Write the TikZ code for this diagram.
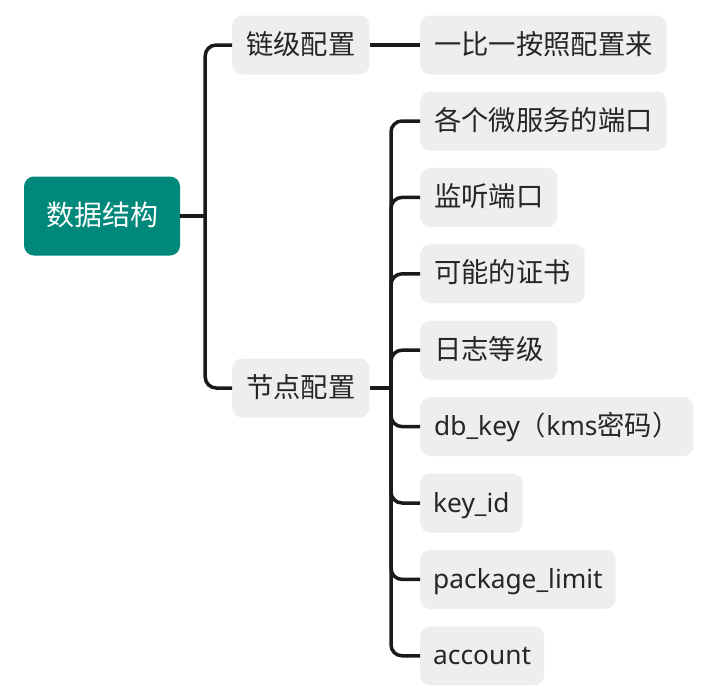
\documentclass[tikz,border=0pt]{standalone}
\usepackage{fontspec}
\setmainfont{Noto Sans}
\newfontfamily\cjk{Noto Sans CJK SC}
\usetikzlibrary{positioning}
\definecolor{rootteal}{HTML}{00897B}
\definecolor{boxgray}{HTML}{EEEEEE}
\definecolor{linedark}{HTML}{1A1A1A}
\tikzset{
  rootbox/.style={fill=rootteal, text=white, rounded corners=10pt, minimum height=79pt,
    inner xsep=22pt, text height=22pt, text depth=4pt, font=\cjk\fontsize{28}{32}\selectfont},
  topic/.style={fill=boxgray, text=black!85, rounded corners=10pt, minimum height=59pt,
    inner xsep=14pt, text height=22pt, text depth=4pt, anchor=west,
    font=\cjk\fontsize{27.3}{31}\selectfont},
  latin/.style={font=\normalfont\fontsize{26.3}{30}\selectfont, inner xsep=13pt},
  branch/.style={draw=linedark, line width=3.5pt, rounded corners=11pt}
}
\begin{document}
\begin{tikzpicture}[x=1pt,y=-1pt]
\useasboundingbox (0,0) rectangle (710,691);
% nodes
 \node[rootbox] (data) at (102,216) {数据结构};
 \node[topic] (chain) at (232,45) {链级配置};
 \node[topic] (onebyone) at (420,45) {一比一按照配置来};
 \node[topic] (node) at (232,388) {节点配置};

 \node[topic] (port) at (420,121) {各个微服务的端口};
 \node[topic, below=17pt of port.south west, anchor=north west] (listen) {监听端口};
 \node[topic, below=17pt of listen.south west, anchor=north west] (cert) {可能的证书};
 \node[topic, below=17pt of cert.south west, anchor=north west] (loglevel) {日志等级};
 \node[topic, below=17pt of loglevel.south west, anchor=north west] (dbkey) {\fontsize{26.3}{30}\normalfont db\_key{\cjk （}kms{\cjk\fontsize{27.3}{31}\selectfont 密码）}};
 \node[topic, latin, below=17pt of dbkey.south west, anchor=north west] (keyid) {key\_id};
 \node[topic, latin, below=17pt of keyid.south west, anchor=north west] (pkglimit) {package\_limit};
 \node[topic, latin, below=17pt of pkglimit.south west, anchor=north west] (account) {account};

 \coordinate[right=25pt of data] (j1);
 \coordinate (j2) at (391,388);

% edges
 \draw[branch] (data.east) -- (j1);
 \draw[branch] (chain.west) -| (j1);
 \draw[branch] (node.west) -| (j1);
 \draw[branch] (chain.east) -- (onebyone.west);
 \draw[branch] (node.east) -- (j2);
 \foreach \leaf in {port,listen,cert,loglevel,dbkey,keyid,pkglimit,account}
  \draw[branch] (\leaf.west) -| (j2);
\end{tikzpicture}
\end{document}
